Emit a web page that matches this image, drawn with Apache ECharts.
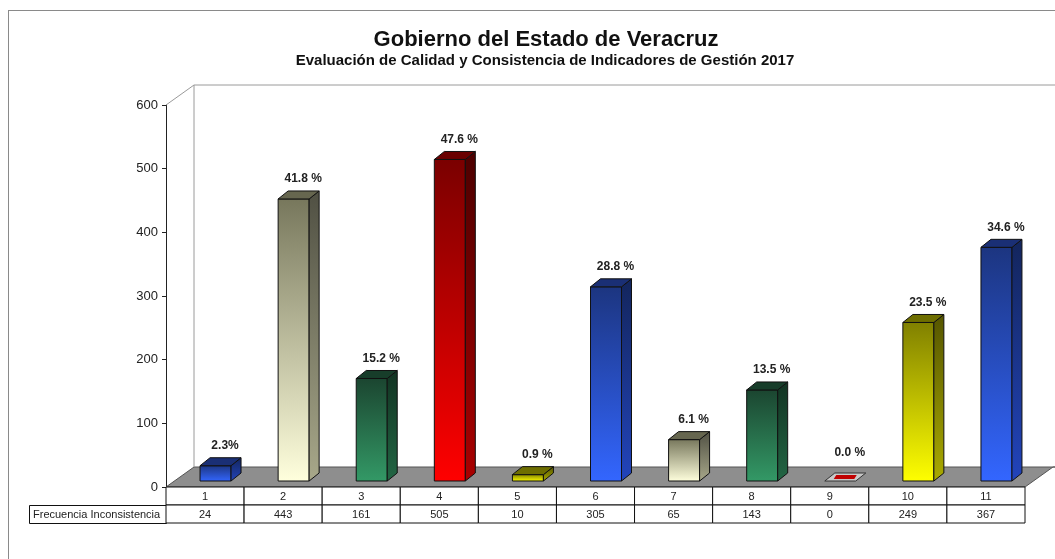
<!DOCTYPE html>
<html>
<head>
<meta charset="utf-8">
<script src="https://cdn.jsdelivr.net/npm/echarts@6/dist/echarts.min.js"></script>
<style>
  html, body { margin: 0; padding: 0; background: #fff; }
  #main { width: 1055px; height: 559px; }
</style>
</head>
<body>
<div id="main"></div>
<script>
var chartDom = document.getElementById('main');
var myChart = echarts.init(chartDom, null, { renderer: 'canvas' });

const categories = ['1', '2', '3', '4', '5', '6', '7', '8', '9', '10', '11'];
const frecuencia = [24, 443, 161, 505, 10, 305, 65, 143, 0, 249, 367];
const porcentajes = ['2.3%', '41.8 %', '15.2 %', '47.6 %', '0.9 %', '28.8 %', '6.1 %', '13.5 %', '0.0 %', '23.5 %', '34.6 %'];
const rowLabel = 'Frecuencia Inconsistencia';

// colour sets cycle: blue, khaki, green, red, yellow
const palettes = [
    { front: ['#1c3580', '#3366ff'], side: ['#13255c', '#2244bb'], top: '#1a2f75' },
    { front: ['#77775c', '#ffffdd'], side: ['#505043', '#a8a88a'], top: '#66664f' },
    { front: ['#1b4530', '#339966'], side: ['#123322', '#226644'], top: '#173d2a' },
    { front: ['#7a0000', '#ff0000'], side: ['#4d0000', '#aa0000'], top: '#6a0000' },
    { front: ['#808000', '#ffff00'], side: ['#555500', '#aaaa00'], top: '#6e6e00' }
];

const FONT = 'Liberation Sans, Arial, sans-serif';
const DEPTH_X = 28, DEPTH_Y = -20;

function grad(c) {
    return { type: 'linear', x: 0, y: 0, x2: 0, y2: 1, colorStops: [{ offset: 0, color: c[0] }, { offset: 1, color: c[1] }] };
}

function renderFloor(params, api) {
    const cs = params.coordSys;
    const x = cs.x, y = cs.y, w = cs.width, h = cs.height;
    const line = { stroke: '#9a9a9a', lineWidth: 1 };
    return {
        type: 'group',
        children: [
            { type: 'polygon', shape: { points: [[x, y + h], [x + w, y + h], [x + w + DEPTH_X, y + h + DEPTH_Y], [x + w + DEPTH_X + 10, y + h + DEPTH_Y], [x + DEPTH_X, y + h + DEPTH_Y]] },
              style: { fill: '#8e8e8e', stroke: '#555', lineWidth: 1 } },
            { type: 'line', shape: { x1: x, y1: y, x2: x + DEPTH_X, y2: y + DEPTH_Y }, style: line },
            { type: 'line', shape: { x1: x + DEPTH_X, y1: y + DEPTH_Y, x2: x + DEPTH_X, y2: y + h + DEPTH_Y }, style: line },
            { type: 'line', shape: { x1: x + DEPTH_X, y1: y + DEPTH_Y, x2: 1060, y2: y + DEPTH_Y }, style: line }
        ]
    };
}

function renderBar(params, api) {
    const i = api.value(0), v = api.value(1);
    const top = api.coord([i, v]), base = api.coord([i, 0]);
    const W = 31, DX = 10, DY = -8;
    const x = top[0] - 5, yT = top[1] - 6, yB = base[1] - 6;
    const p = palettes[i % palettes.length];
    const edge = { stroke: '#111', lineWidth: 1 };
    const children = [];
    if (v > 0) {
        children.push({ type: 'rect', shape: { x: x, y: yT, width: W, height: yB - yT },
            style: Object.assign({ fill: grad(p.front) }, edge) });
        children.push({ type: 'polygon', shape: { points: [[x + W, yT], [x + W + DX, yT + DY], [x + W + DX, yB + DY], [x + W, yB]] },
            style: Object.assign({ fill: grad(p.side) }, edge) });
        children.push({ type: 'polygon', shape: { points: [[x, yT], [x + DX, yT + DY], [x + W + DX, yT + DY], [x + W, yT]] },
            style: Object.assign({ fill: p.top }, edge) });
    } else {
        children.push({ type: 'polygon', shape: { points: [[x, yB], [x + DX, yB + DY], [x + W + DX, yB + DY], [x + W, yB]] },
            style: { fill: '#c8c8c8', stroke: '#333', lineWidth: 1 } });
        children.push({ type: 'polygon', shape: { points: [[x + 9, yB - 2], [x + 11.5, yB - 6], [x + W + 1, yB - 6], [x + W - 1.5, yB - 2]] },
            style: { fill: '#c00000' } });
    }
    const gap = v > 0 ? 6 : 14;
    children.push({ type: 'text', x: x + 25, y: yT + DY - gap,
        style: { text: porcentajes[i], fill: '#222', font: 'bold 12px ' + FONT, align: 'center', verticalAlign: 'bottom' } });
    return { type: 'group', children: children };
}

function renderCell(params, api) {
    const i = api.value(0);
    const c = api.coord([i, 0]);
    const bw = api.size([1, 0])[0];
    const x0 = c[0] - bw / 2, y0 = c[1], rh = 18;
    const box = { fill: '#fff', stroke: '#111', lineWidth: 1 };
    const txt = { fill: '#222', font: '11px ' + FONT, align: 'center', verticalAlign: 'middle' };
    return {
        type: 'group',
        children: [
            { type: 'rect', shape: { x: x0, y: y0, width: bw, height: rh }, style: box },
            { type: 'rect', shape: { x: x0, y: y0 + rh, width: bw, height: rh }, style: box },
            { type: 'text', x: c[0], y: y0 + rh / 2 + 1, style: Object.assign({ text: categories[i] }, txt) },
            { type: 'text', x: c[0], y: y0 + rh * 1.5 + 1, style: Object.assign({ text: String(api.value(1)) }, txt) }
        ]
    };
}

const barData = frecuencia.map((v, i) => [i, v]);

var option = {
    backgroundColor: '#fff',
    animation: false,
    title: [
        { text: 'Gobierno del Estado de Veracruz', left: 541, top: 24, textAlign: 'center',
          textStyle: { fontFamily: FONT, fontSize: 22, fontWeight: 'bold', color: '#111' } },
        { text: 'Evaluación de Calidad y Consistencia de Indicadores de Gestión 2017', left: 540, top: 48, textAlign: 'center',
          textStyle: { fontFamily: FONT, fontSize: 15, fontWeight: 'bold', color: '#111' } }
    ],
    grid: { left: 166, right: 30, top: 105, bottom: 72 },
    xAxis: {
        type: 'category',
        data: categories,
        axisLine: { show: false },
        axisTick: { show: false },
        axisLabel: { show: false }
    },
    yAxis: {
        type: 'value',
        min: 0,
        max: 600,
        interval: 100,
        axisLine: { show: true, lineStyle: { color: '#222', width: 1 } },
        axisTick: { show: true, length: 4, lineStyle: { color: '#222' } },
        axisLabel: { fontFamily: FONT, fontSize: 13, color: '#222', margin: 8 },
        splitLine: { show: false }
    },
    graphic: [
        { type: 'line', shape: { x1: 8, y1: 10.5, x2: 1060, y2: 10.5 }, style: { stroke: '#8a8a8a', lineWidth: 1 } },
        { type: 'line', shape: { x1: 8.5, y1: 10, x2: 8.5, y2: 560 }, style: { stroke: '#8a8a8a', lineWidth: 1 } },
        { type: 'rect', shape: { x: 29.5, y: 505.5, width: 137, height: 18 }, style: { fill: '#fff', stroke: '#111', lineWidth: 1 } },
        { type: 'text', x: 33, y: 515, style: { text: rowLabel, fill: '#222', font: '11px ' + FONT, verticalAlign: 'middle' } }
    ],
    series: [
        { type: 'custom', name: 'floor', renderItem: renderFloor, data: [[0, 0]], z: 1, silent: true },
        { type: 'custom', name: 'table', renderItem: renderCell, data: barData, z: 3, silent: true },
        { type: 'custom', name: 'Frecuencia Inconsistencia', renderItem: renderBar, data: barData, z: 4 }
    ]
};
option && myChart.setOption(option);
</script>
</body>
</html>
